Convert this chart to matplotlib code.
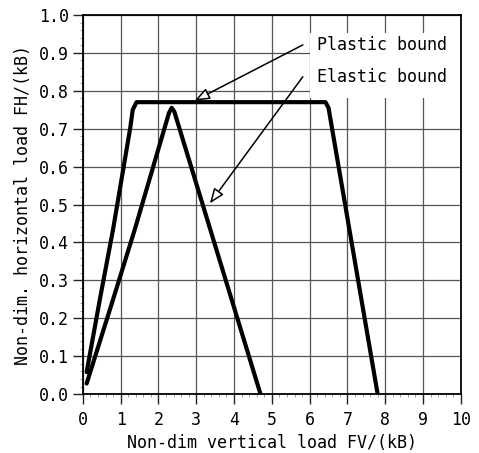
import matplotlib
matplotlib.use("Agg")
import matplotlib.pyplot as plt
from matplotlib.ticker import MultipleLocator
from matplotlib.patches import Rectangle

# Data
plastic_fv = [0.10, 0.45, 0.80, 1.25, 1.32, 1.42, 6.42, 6.50, 7.80]
plastic_fh = [0.058, 0.250, 0.435, 0.700, 0.750, 0.770, 0.770, 0.755, 0.0]
elastic_fv = [0.10, 0.80, 1.37, 2.28, 2.35, 2.42, 4.70]
elastic_fh = [0.028, 0.250, 0.433, 0.742, 0.755, 0.745, 0.0]

x_ticks = list(range(0, 11))
y_ticks = [i / 10 for i in range(0, 11)]
x_labels = [str(v) for v in x_ticks]
y_labels = [f"{v:.1f}" for v in y_ticks]

labels = ["Plastic bound", "Elastic bound"]
label_xy = [(5.82, 0.921), (5.82, 0.837)]
arrow_tips = [(2.96, 0.774), (3.36, 0.503)]

mono = "DejaVu Sans Mono"
fs = 12

fig = plt.figure(figsize=(4.79, 4.53), dpi=100)
ax = fig.add_axes([0.173, 0.130, 0.789, 0.837])

ax.set_xlim(0, 10)
ax.set_ylim(0, 1.0)
ax.set_xticks(x_ticks)
ax.set_yticks(y_ticks)
ax.set_xticklabels(x_labels, fontfamily=mono, fontsize=fs)
ax.set_yticklabels(y_labels, fontfamily=mono, fontsize=fs)
ax.xaxis.set_minor_locator(MultipleLocator(0.2))
ax.yaxis.set_minor_locator(MultipleLocator(0.02))
ax.tick_params(which="major", direction="out", length=7, width=1.0, pad=3, color="#222222")
ax.tick_params(axis="x", which="major", pad=5)
ax.tick_params(which="minor", direction="out", length=2, width=0.5, color="#777777")

ax.grid(True, which="major", color="#555555", linewidth=0.9, zorder=0)
ax.set_axisbelow(True)
for sp in ax.spines.values():
    sp.set_linewidth(1.3)
    sp.set_color("black")

ax.plot(plastic_fv, plastic_fh, color="black", lw=3.0, solid_joinstyle="round",
        solid_capstyle="round", zorder=3)
ax.plot(elastic_fv, elastic_fh, color="black", lw=3.0, solid_joinstyle="round",
        solid_capstyle="round", zorder=3)

# white box behind the annotation texts (covers the grid)
ax.add_patch(Rectangle((6.0, 0.78), 4.0, 0.172, facecolor="white", edgecolor="none",
                       zorder=1))

for lab, (tx, ty), (ax_, ay) in zip(labels, label_xy, arrow_tips):
    ax.annotate("", xy=(ax_, ay), xytext=(tx, ty),
                arrowprops=dict(arrowstyle="-|>,head_length=0.9,head_width=0.35",
                                fc="white", ec="black", lw=1.1, shrinkA=0, shrinkB=0),
                zorder=4)
    ax.text(tx + 0.38, ty, lab, fontfamily=mono, fontsize=fs, va="center", ha="left",
            zorder=5)

ax.set_xlabel("Non-dim vertical load FV/(kB)", fontfamily=mono, fontsize=fs, labelpad=4)
ax.set_ylabel("Non-dim. horizontal load FH/(kB)", fontfamily=mono, fontsize=fs, labelpad=5)

fig.savefig("out.png", dpi=100)
